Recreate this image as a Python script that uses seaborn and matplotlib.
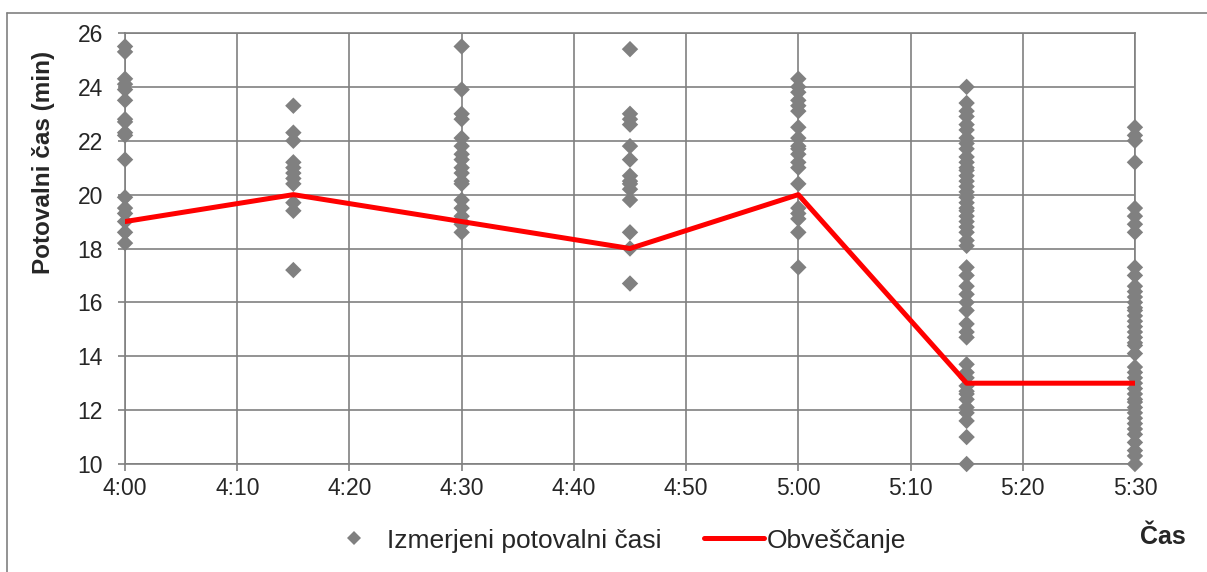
import numpy as np
import pandas as pd
import matplotlib
matplotlib.use("Agg")
import matplotlib.pyplot as plt
import seaborn as sns
from matplotlib.lines import Line2D
from matplotlib.ticker import FixedLocator, FuncFormatter

# minutes after 4:00 of each measured slot
cas_min = [0, 15, 30, 45, 60, 75, 90]

t_0400 = [25.5, 25.3, 24.3, 24.1, 23.9, 23.5, 22.8, 22.7, 22.3, 22.2, 21.3,
          19.9, 19.5, 19.3, 19.0, 18.6, 18.2]
t_0415 = [23.3, 22.3, 22.0, 21.2, 21.0, 20.8, 20.6, 20.4, 19.7, 19.4, 17.2]
t_0430 = [25.5, 23.9, 23.0, 22.8, 22.1, 21.8, 21.5, 21.3, 21.0, 20.8, 20.5,
          20.4, 19.8, 19.5, 19.2, 19.0, 18.9, 18.6]
t_0445 = [25.4, 23.0, 22.8, 22.6, 21.8, 21.3, 20.7, 20.5, 20.4, 20.2, 19.8,
          18.6, 18.0, 16.7]
t_0500 = [24.3, 24.0, 23.8, 23.5, 23.3, 23.1, 22.5, 22.1, 21.8, 21.7, 21.5,
          21.2, 21.0, 20.4, 19.5, 19.3, 19.1, 18.6, 17.3]
t_0515 = [24.0, 23.4, 23.1, 22.9, 22.6, 22.4, 22.1, 21.9, 21.7, 21.4, 21.2,
          21.0, 20.9, 20.7, 20.5, 20.3, 20.1, 19.9, 19.7, 19.5, 19.4, 19.2,
          19.0, 18.8, 18.6, 18.3, 18.1, 17.3, 17.0, 16.6, 16.3, 16.0, 15.7,
          15.2, 14.9, 14.7, 13.7, 13.4, 13.2, 12.9, 12.7, 12.6, 12.4, 12.1,
          11.9, 11.6, 11.0, 10.0]
t_0530 = [22.5, 22.2, 22.0, 21.2, 19.5, 19.2, 18.9, 18.6, 17.3, 17.0, 16.6,
          16.4, 16.2, 16.0, 15.8, 15.7, 15.5, 15.3, 15.1, 14.9, 14.7, 14.5,
          14.4, 14.1, 13.6, 13.4, 13.2, 13.0, 12.8, 12.6, 12.4, 12.3, 12.1,
          11.9, 11.7, 11.5, 11.3, 11.1, 10.8, 10.5, 10.3, 10.0]

# travel time shown to drivers
obvescanje = [19, 20, 19, 18, 20, 13, 13]

meritve = [t_0400, t_0415, t_0430, t_0445, t_0500, t_0515, t_0530]
tocke = pd.DataFrame({
    "cas": np.concatenate([[m] * len(v) for m, v in zip(cas_min, meritve)]),
    "cas_potovanja": np.concatenate(meritve),
})
linija = pd.DataFrame({"cas": cas_min, "cas_potovanja": obvescanje})

sns.set_style("white")
plt.rcParams["font.family"] = ["Liberation Sans", "DejaVu Sans"]

siva = "#808080"
fig = plt.figure(figsize=(12.07, 5.72), dpi=100)
ax = fig.add_axes([0.1036, 0.1888, 0.8367, 0.7535])

sns.scatterplot(data=tocke, x="cas", y="cas_potovanja", marker="D", s=70,
                color=siva, edgecolor="none", linewidth=0, ax=ax, zorder=3,
                legend=False, clip_on=False)
sns.lineplot(data=linija, x="cas", y="cas_potovanja", color="#FF0000",
             linewidth=3.6, ax=ax, zorder=4, legend=False)

ax.set_xlim(0, 90)
ax.set_ylim(10, 26)
ax.xaxis.set_major_locator(FixedLocator(range(0, 91, 10)))
ax.yaxis.set_major_locator(FixedLocator(range(10, 27, 2)))
ax.xaxis.set_major_formatter(
    FuncFormatter(lambda v, p: f"{4 + int(v) // 60}:{int(v) % 60:02d}"))
ax.grid(True, color=siva, linewidth=1.2)
ax.set_axisbelow(True)
for sp in ax.spines.values():
    sp.set_color(siva)
    sp.set_linewidth(1.2)
ax.tick_params(axis="both", which="major", direction="out", length=5,
               width=1.2, color=siva, labelsize=16.5, left=True, bottom=True)
ax.tick_params(axis="y", pad=11)
ax.tick_params(axis="x", pad=4)
ax.set_xlabel("")
ax.set_ylabel("Potovalni čas (min)", fontsize=17.5, fontweight="bold")
ax.yaxis.set_label_coords(-0.069, 0.70)
fig.text(0.9635, 0.061, "Čas", fontsize=18, fontweight="bold",
         ha="center", va="center")

# outer chart frame
fig.add_artist(Line2D([0.0058, 0.0058], [0.0, 0.977], color=siva, lw=1.2))
fig.add_artist(Line2D([0.0058, 1.0], [0.977, 0.977], color=siva, lw=1.2))

h1 = Line2D([], [], marker="D", color=siva, linestyle="none", markersize=7,
            markeredgewidth=0)
h2 = Line2D([], [], color="#FF0000", linewidth=3.6)
fig.legend([h1, h2], ["Izmerjeni potovalni časi", "Obveščanje"],
           loc="center", bbox_to_anchor=(0.5095, 0.055), ncol=2,
           frameon=False, fontsize=19, handlelength=2.3, handletextpad=0.1,
           columnspacing=1.6)

fig.savefig("out.png", dpi=100, facecolor="white")
